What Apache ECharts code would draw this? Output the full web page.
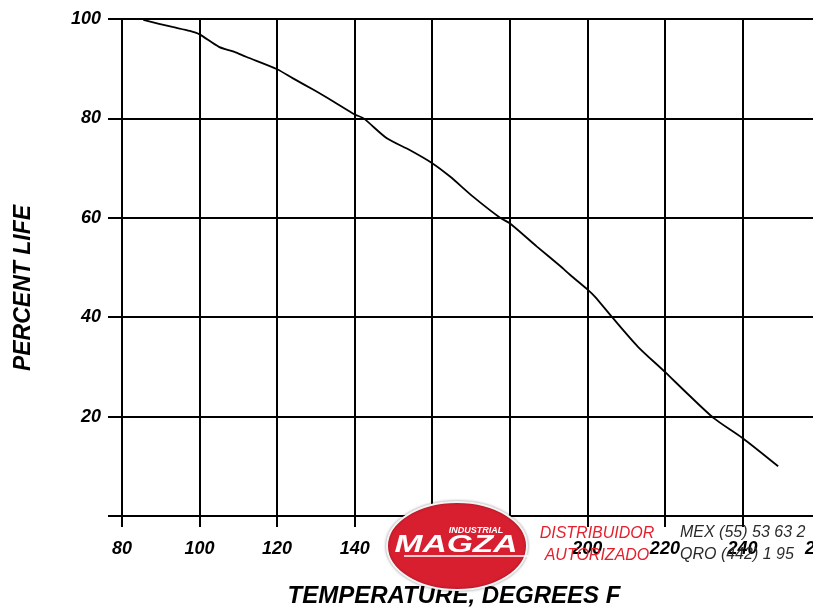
<!DOCTYPE html>
<html>
<head>
<meta charset="utf-8">
<script src="https://cdn.jsdelivr.net/npm/echarts@6/dist/echarts.min.js"></script>
<style>
  html, body { margin: 0; padding: 0; background: #fff; overflow: hidden; }
  #chart { width: 830px; height: 608px; }
</style>
</head>
<body>
<div id="chart"></div>
<script>
// Temperature (°F) versus percent of rated life
const temperatureF = [85.5, 93, 97.5, 100, 105, 109, 112, 120, 124, 129.5, 134.5, 140, 142.3, 148.3,
  154.3, 160, 164.6, 170.6, 177.5, 180, 187, 193, 195.6, 200, 202, 206.4, 213, 220, 225.7, 232.6, 240, 249.2];
const percentLife = [99.8, 98.4, 97.6, 96.9, 94.4, 93.4, 92.4, 89.9, 88.1, 85.7, 83.4, 80.8, 80, 76,
  73.6, 71, 68.3, 64.2, 60, 58.9, 54.2, 50.3, 48.5, 45.6, 44.1, 40, 34.1, 29, 24.7, 19.7, 15.7, 10];

const xTicks = { min: 80, max: 260, step: 20 };
const yTicks = { min: 0, max: 100, step: 20 };

const xTitle = 'TEMPERATURE, DEGREES F';
const yTitle = 'PERCENT LIFE';

const FONT = '"Liberation Sans", Arial, Helvetica, sans-serif';

const chart = echarts.init(document.getElementById('chart'), null, { renderer: 'canvas', width: 830, height: 608 });

// badge elements sit above the plot
const Z = 100;

chart.setOption({
  animation: false,
  backgroundColor: '#ffffff',
  grid: { left: 122, right: 10, top: 19, bottom: 92, containLabel: false, outerBoundsMode: 'none' },
  xAxis: {
    type: 'value',
    min: xTicks.min, max: xTicks.max, interval: xTicks.step,
    axisLine: { show: true, lineStyle: { color: '#000', width: 2 } },
    axisTick: { show: true, inside: false, length: 11, lineStyle: { color: '#000', width: 2 } },
    splitLine: { show: true, lineStyle: { color: '#000', width: 2 } },
    axisLabel: {
      margin: 24, color: '#000', fontFamily: FONT, fontSize: 18,
      fontWeight: 'bold', fontStyle: 'italic', showMaxLabel: true, showMinLabel: true
    }
  },
  yAxis: {
    type: 'value',
    min: yTicks.min, max: yTicks.max, interval: yTicks.step,
    axisLine: { show: false },
    axisTick: { show: true, inside: false, length: 14, lineStyle: { color: '#000', width: 2 } },
    splitLine: { show: true, lineStyle: { color: '#000', width: 2 } },
    axisLabel: {
      margin: 21, color: '#000', fontFamily: FONT, fontSize: 18,
      fontWeight: 'bold', fontStyle: 'italic',
      formatter: v => (v === 0 ? '' : String(v))
    }
  },
  series: [{
    type: 'line',
    data: temperatureF.map((t, i) => [t, percentLife[i]]),
    smooth: 0.25,
    symbol: 'none',
    lineStyle: { color: '#000', width: 1.8 },
    z: 5
  }],
  graphic: [
    {
      type: 'text', x: 454, y: 596, z: 10,
      style: {
        text: xTitle, font: 'italic bold 24px ' + FONT, fill: '#000',
        align: 'center', verticalAlign: 'middle'
      }
    },
    {
      type: 'text', x: 24, y: 288, rotation: Math.PI / 2, z: 10,
      style: {
        text: yTitle, font: 'italic bold 23px ' + FONT, fill: '#000',
        align: 'center', verticalAlign: 'middle'
      }
    },
    // distributor badge
    {
      type: 'ellipse', z: Z, shape: { cx: 457, cy: 546, rx: 70, ry: 44 },
      style: { fill: '#d81f30', stroke: '#f4f4f4', lineWidth: 2,
        shadowBlur: 3, shadowColor: 'rgba(0,0,0,0.35)' }
    },
    {
      type: 'text', x: 476, y: 531, z: Z + 1,
      style: { text: 'INDUSTRIAL', font: 'italic bold 9px ' + FONT, fill: '#fff',
        align: 'center', verticalAlign: 'middle' }
    },
    {
      type: 'text', x: 456, y: 545, scaleX: 1.4, z: Z + 1,
      style: { text: 'MAGZA', font: 'italic bold 24px ' + FONT, fill: '#fff',
        align: 'center', verticalAlign: 'middle',
        shadowBlur: 2, shadowColor: 'rgba(0,0,0,0.5)', shadowOffsetX: 1, shadowOffsetY: 1 }
    },
    {
      type: 'line', z: Z + 1, shape: { x1: 404, y1: 556, x2: 528, y2: 556 },
      style: { stroke: '#fff', lineWidth: 1.5 }
    },
    {
      type: 'text', x: 597, y: 534, z: Z + 1,
      style: { text: 'DISTRIBUIDOR', font: 'italic 16px ' + FONT, fill: '#e4202c',
        align: 'center', verticalAlign: 'middle' }
    },
    {
      type: 'text', x: 597, y: 556, z: Z + 1,
      style: { text: 'AUTORIZADO', font: 'italic 16px ' + FONT, fill: '#e4202c',
        align: 'center', verticalAlign: 'middle' }
    },
    {
      type: 'text', x: 680, y: 533, z: Z + 1,
      style: { text: 'MEX (55) 53 63 2', font: 'italic 16px ' + FONT, fill: '#2a2a2a',
        align: 'left', verticalAlign: 'middle' }
    },
    {
      type: 'text', x: 680, y: 555, z: Z + 1,
      style: { text: 'QRO (442) 1 95', font: 'italic 16px ' + FONT, fill: '#2a2a2a',
        align: 'left', verticalAlign: 'middle' }
    }
  ]
});
</script>
</body>
</html>
